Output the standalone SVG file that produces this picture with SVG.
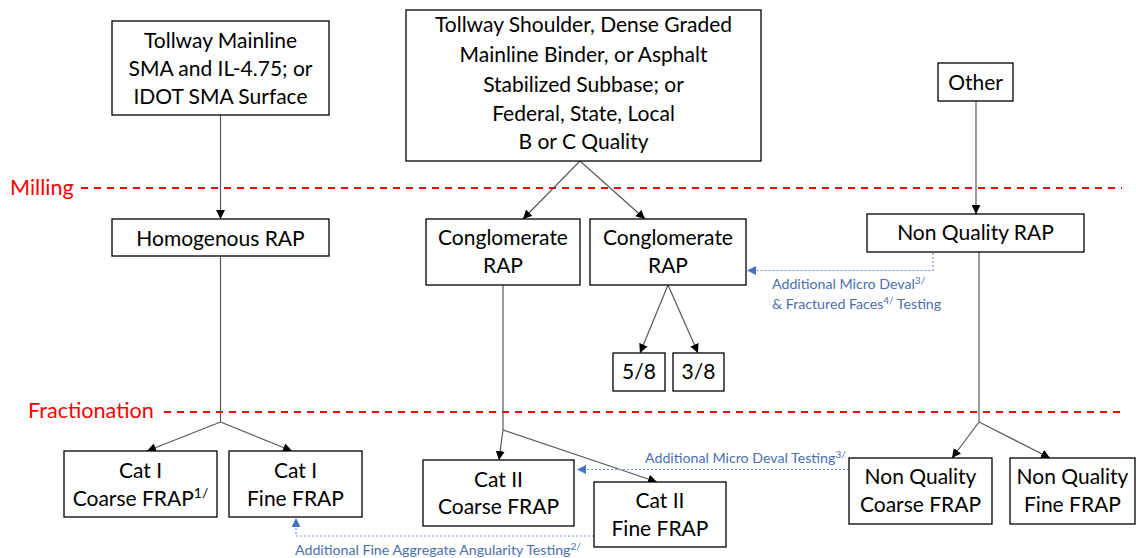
<svg xmlns="http://www.w3.org/2000/svg" width="1136" height="558" viewBox="0 0 1136 558">
<defs>
<marker id="ah" viewBox="0 0 10 10" refX="10" refY="5" markerWidth="9" markerHeight="9" markerUnits="userSpaceOnUse" orient="auto"><path d="M0,0 L10,5 L0,10 z" fill="#000"/></marker>
<marker id="bh" viewBox="0 0 10 10" refX="10" refY="5" markerWidth="9" markerHeight="9" markerUnits="userSpaceOnUse" orient="auto"><path d="M0,0 L10,5 L0,10 z" fill="#4472C4"/></marker>
</defs>
<style>
.box{fill:#fff;stroke:#000;stroke-width:1.3}
.t{font-family:Lato,"Liberation Sans",sans-serif;font-size:21px;fill:#000;text-anchor:middle}
.stage{font-family:Lato,"Liberation Sans",sans-serif;font-size:21.6px;fill:#FF0000}
.dash{stroke:#FF0000;stroke-width:2;stroke-dasharray:7 6;fill:none}
.c{stroke:#595959;stroke-width:1.2;fill:none}
.ca{stroke:#595959;stroke-width:1.2;fill:none;marker-end:url(#ah)}
.b{stroke:#6F93D0;stroke-width:1.2;stroke-dasharray:2 2;fill:none}
.ba{stroke:#6F93D0;stroke-width:1.2;stroke-dasharray:2 2;fill:none;marker-end:url(#bh)}
.bl{font-family:Lato,"Liberation Sans",sans-serif;font-size:14.2px;fill:#4A6FAE}
.sup{font-size:10px}
</style>
<rect width="1136" height="558" fill="#fff"/>
<g id="stages">
<text class="stage" x="10" y="195">Milling</text>
<line class="dash" x1="81" y1="188" x2="1122" y2="188"/>
<text class="stage" x="28" y="418">Fractionation</text>
<line class="dash" x1="164" y1="412" x2="1122" y2="412"/>
</g>
<g id="connectors">
<line class="ca" x1="220.5" y1="115" x2="220.5" y2="219"/>
<line class="ca" x1="976" y1="101" x2="976" y2="214"/>
<line class="ca" x1="580" y1="161" x2="523" y2="219"/>
<line class="ca" x1="580" y1="161" x2="645" y2="219"/>
<line class="ca" x1="668" y1="285" x2="640" y2="353"/>
<line class="ca" x1="668" y1="285" x2="698" y2="353"/>
<polyline class="c" points="220.5,256 220.5,422"/>
<line class="ca" x1="220.5" y1="422" x2="147" y2="451"/>
<line class="ca" x1="220.5" y1="422" x2="292" y2="451"/>
<polyline class="c" points="503,285 503,430"/>
<line class="ca" x1="503" y1="430" x2="499" y2="460"/>
<line class="ca" x1="503" y1="430" x2="657" y2="482"/>
<polyline class="c" points="979,252 979,422"/>
<line class="ca" x1="979" y1="422" x2="952" y2="458"/>
<line class="ca" x1="979" y1="422" x2="1050" y2="458"/>
<polyline class="ba" points="933,253 933,270.5 747,270.5"/>
<polyline class="ba" points="849,469.5 577,469.5"/>
<polyline class="ba" points="594,536 296,536 296,518"/>
<text class="bl" x="772" y="289">Additional Micro Deval<tspan class="sup" dy="-5">3/</tspan></text>
<text class="bl" x="772" y="309">&amp; Fractured Faces<tspan class="sup" dy="-5">4/</tspan><tspan dy="5"> Testing</tspan></text>
<text class="bl" x="645" y="463">Additional Micro Deval Testing<tspan class="sup" dy="-5">3/</tspan></text>
<text class="bl" x="295" y="555">Additional Fine Aggregate Angularity Testing<tspan class="sup" dy="-5">2/</tspan></text>
</g>
<g id="n-tollway-mainline">
<rect class="box" x="112" y="21" width="217" height="94"/>
<text class="t" x="220.5" y="48">Tollway Mainline</text>
<text class="t" x="220.5" y="76">SMA and IL-4.75; or</text>
<text class="t" x="220.5" y="104">IDOT SMA Surface</text>
</g>
<g id="n-tollway-shoulder">
<rect class="box" x="406" y="10" width="355" height="151"/>
<text class="t" x="583.5" y="32">Tollway Shoulder, Dense Graded</text>
<text class="t" x="583.5" y="62">Mainline Binder, or Asphalt</text>
<text class="t" x="583.5" y="92">Stabilized Subbase; or</text>
<text class="t" x="583.5" y="121">Federal, State, Local</text>
<text class="t" x="583.5" y="149">B or C Quality</text>
</g>
<g id="n-other">
<rect class="box" x="938" y="63" width="75" height="38"/>
<text class="t" x="975.5" y="90">Other</text>
</g>
<g id="n-homogenous">
<rect class="box" x="112" y="219" width="217" height="37"/>
<text class="t" x="220.5" y="246">Homogenous RAP</text>
</g>
<g id="n-conglomerate-1">
<rect class="box" x="426" y="219" width="154" height="66"/>
<text class="t" x="503" y="245">Conglomerate</text>
<text class="t" x="503" y="273">RAP</text>
</g>
<g id="n-conglomerate-2">
<rect class="box" x="590" y="219" width="156" height="66"/>
<text class="t" x="668" y="245">Conglomerate</text>
<text class="t" x="668" y="273">RAP</text>
</g>
<g id="n-nonquality-rap">
<rect class="box" x="867" y="214" width="217" height="38"/>
<text class="t" x="975.5" y="240">Non Quality RAP</text>
</g>
<g id="n-58">
<rect class="box" x="613" y="353" width="52" height="38"/>
<text class="t" x="639" y="379">5/8</text>
</g>
<g id="n-38">
<rect class="box" x="673" y="353" width="51" height="38"/>
<text class="t" x="698.5" y="379">3/8</text>
</g>
<g id="n-cat1-coarse">
<rect class="box" x="64" y="451" width="153" height="66"/>
<text class="t" x="140.5" y="478">Cat I</text>
<text class="t" x="140.5" y="506">Coarse FRAP<tspan font-size="14px" dy="-8">1/</tspan></text>
</g>
<g id="n-cat1-fine">
<rect class="box" x="229" y="451" width="133" height="66"/>
<text class="t" x="295.5" y="478">Cat I</text>
<text class="t" x="295.5" y="506">Fine FRAP</text>
</g>
<g id="n-cat2-coarse">
<rect class="box" x="423" y="460" width="151" height="66"/>
<text class="t" x="498.5" y="487">Cat II</text>
<text class="t" x="498.5" y="514">Coarse FRAP</text>
</g>
<g id="n-cat2-fine">
<rect class="box" x="594" y="482" width="132" height="65"/>
<text class="t" x="660" y="508">Cat II</text>
<text class="t" x="660" y="536">Fine FRAP</text>
</g>
<g id="n-nq-coarse">
<rect class="box" x="849" y="458" width="143" height="66"/>
<text class="t" x="920.5" y="484">Non Quality</text>
<text class="t" x="920.5" y="512">Coarse FRAP</text>
</g>
<g id="n-nq-fine">
<rect class="box" x="1010" y="458" width="125" height="66"/>
<text class="t" x="1072.5" y="484">Non Quality</text>
<text class="t" x="1072.5" y="512">Fine FRAP</text>
</g>
</svg>
